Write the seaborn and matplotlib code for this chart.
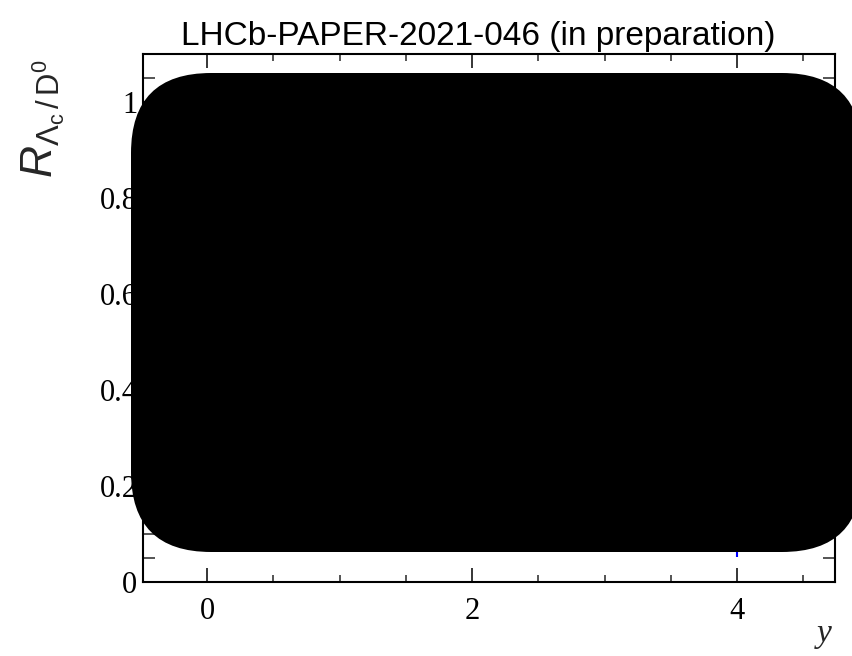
import matplotlib
matplotlib.use("Agg")
import matplotlib.pyplot as plt
import pandas as pd
import seaborn as sns
from matplotlib.patches import FancyBboxPatch
from matplotlib.ticker import FixedLocator, MultipleLocator

# Lambda_c / D0 ratio versus rapidity (only the forward point's lower edge shows)
rapidity = [4.0]
ratio = [0.29]
ratio_err = [0.238]

x_major = [0, 2, 4]
x_labels = ["0", "2", "4"]
y_major = [0, 0.2, 0.4, 0.6, 0.8, 1.0]
y_labels = ["0", "0.2", "0.4", "0.6", "0.8", "1"]

title_text = "LHCb-PAPER-2021-046 (in preparation)"

sns.set_theme(style="ticks")
plt.rcParams["font.family"] = ["Liberation Serif", "DejaVu Serif"]
plt.rcParams["mathtext.fontset"] = "custom"
plt.rcParams["mathtext.rm"] = "Liberation Sans"
plt.rcParams["mathtext.it"] = "Liberation Sans:italic"
plt.rcParams["mathtext.sf"] = "Liberation Sans"

fig = plt.figure(figsize=(8.53, 6.56), dpi=100)
fig.patch.set_facecolor("white")
ax = fig.add_axes([143 / 853, 74 / 656, 692 / 853, 528 / 656])
ax.set_facecolor("white")

df = pd.DataFrame({"y": rapidity, "R": ratio, "err": ratio_err})
ax.errorbar(df["y"], df["R"], yerr=df["err"], fmt="none", ecolor="#0000ff",
            elinewidth=1.5, capsize=0, zorder=3)
sns.scatterplot(data=df, x="y", y="R", ax=ax, color="#0000ff", s=60,
                marker="o", edgecolor="#0000ff", zorder=4, legend=False)

ax.set_xlim(-0.485, 4.74)
ax.set_ylim(0, 1.1)

ax.xaxis.set_major_locator(FixedLocator(x_major))
ax.set_xticklabels(x_labels)
ax.xaxis.set_minor_locator(MultipleLocator(0.5))
ax.yaxis.set_major_locator(FixedLocator(y_major))
ax.set_yticklabels(y_labels)
ax.yaxis.set_minor_locator(MultipleLocator(0.05))

for s in ax.spines.values():
    s.set_visible(True)
    s.set_linewidth(1.5)
    s.set_color("black")

ax.tick_params(axis="x", which="major", direction="in", length=10, width=1.1,
               top=True, bottom=True, labelsize=22, pad=11, colors="black")
ax.tick_params(axis="x", which="minor", direction="in", length=5, width=1.1,
               top=True, bottom=True)
ax.tick_params(axis="y", which="major", direction="in", length=17, width=1.1,
               left=True, right=True, labelsize=22, pad=4, colors="black")
ax.tick_params(axis="y", which="minor", direction="in", length=8.5, width=1.1,
               left=True, right=True)
ax.grid(False)

ax.set_xlabel("y", fontsize=24, fontstyle="italic", loc="right",
              family=["Liberation Serif"], labelpad=0)
ax.xaxis.set_label_coords(0.995, -0.07)
ax.set_ylabel(r"$R_{\Lambda_{\mathrm{c}}\,/\,\mathrm{D}^0}$", fontsize=32,
              loc="top")
ax.yaxis.set_label_coords(-0.11, 0.99)

fig.text(478 / 853, 1 - 36 / 656, title_text, ha="center", va="center",
         fontsize=24, family=["Liberation Sans"], color="black")

# opaque rounded panel laid over the plotting area
panel = FancyBboxPatch((1.31, 1.04), 7.31, 4.79,
                       boxstyle="round,pad=0,rounding_size=0.8",
                       transform=fig.dpi_scale_trans, facecolor="black",
                       edgecolor="none", zorder=20, clip_on=False)
fig.add_artist(panel)

fig.savefig("out.png", dpi=100)
